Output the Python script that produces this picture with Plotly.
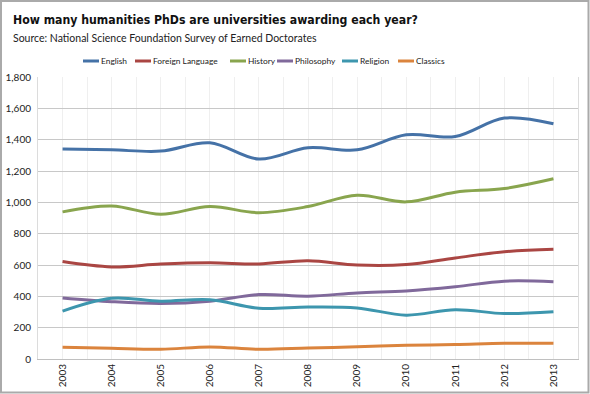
import plotly.graph_objects as go

years = [2003, 2004, 2005, 2006, 2007, 2008, 2009, 2010, 2011, 2012, 2013]
english = [1340, 1335, 1327, 1380, 1276, 1348, 1335, 1431, 1420, 1538, 1502]
foreign_language = [622, 588, 606, 614, 607, 627, 600, 603, 645, 685, 700]
history = [939, 977, 924, 973, 934, 973, 1045, 1003, 1065, 1088, 1150]
philosophy = [390, 366, 354, 369, 411, 401, 422, 434, 461, 497, 493]
religion = [306, 388, 369, 378, 324, 332, 326, 280, 315, 290, 301]
classics = [75, 68, 62, 77, 62, 70, 78, 87, 92, 100, 100]

series = [
    ("English", english, "#4572A7"),
    ("Foreign Language", foreign_language, "#AA4643"),
    ("History", history, "#89A54E"),
    ("Philosophy", philosophy, "#80699B"),
    ("Religion", religion, "#3D96AE"),
    ("Classics", classics, "#DB843D"),
]

W, H = 590, 394
L, R, T, B = 38, 12, 77, 35
PW, PH = W - L - R, H - T - B


def px(p):
    return (p - L) / PW


def py(q):
    return (H - B - q) / PH


fig = go.Figure()
for name, vals, col in series:
    fig.add_trace(go.Scatter(
        x=years, y=vals, name=name, mode="lines",
        line=dict(color=col, width=3, shape="spline", smoothing=1.0),
        showlegend=False,
    ))

font_body = "Lato, Open Sans, sans-serif"
annotations = [
    dict(text="<b>How many humanities PhDs are universities awarding each year?</b>",
         x=px(11), y=py(20), xref="paper", yref="paper", xanchor="left", yanchor="middle",
         showarrow=False, font=dict(family="DejaVu Sans Condensed, DejaVu Sans", size=12.2, color="#111")),
    dict(text="Source: National Science Foundation Survey of Earned Doctorates",
         x=px(11), y=py(38), xref="paper", yref="paper", xanchor="left", yanchor="middle",
         showarrow=False, font=dict(family=font_body, size=10.5, color="#222")),
]
shapes = []
legend_x = [83, 135, 230, 277, 342, 398]
for (name, vals, col), lx in zip(series, legend_x):
    shapes.append(dict(type="line", xref="paper", yref="paper",
                       x0=px(lx), x1=px(lx + 16), y0=py(61), y1=py(61),
                       line=dict(color=col, width=3)))
    annotations.append(dict(text=name, x=px(lx + 16), y=py(61), xref="paper", yref="paper",
                            xanchor="left", yanchor="middle", showarrow=False,
                            font=dict(family=font_body, size=8.4, color="#222")))
shapes.append(dict(type="rect", xref="paper", yref="paper",
                   x0=px(1), x1=px(588.5), y0=py(1), y1=py(392.5),
                   line=dict(color="#aaaaaa", width=2), layer="above"))

fig.update_layout(
    width=W, height=H,
    margin=dict(l=L, r=R, t=T, b=B, autoexpand=False),
    paper_bgcolor="white", plot_bgcolor="white",
    annotations=annotations, shapes=shapes,
    xaxis=dict(range=[2002.5, 2013.5], tickvals=years, tickangle=-90,
               showgrid=True, gridcolor="#efefef", gridwidth=1,
               minor=dict(dtick=0.5, tick0=2002.5, showgrid=True, gridcolor="#efefef"),
               showline=True, linecolor="#c0c0c0", linewidth=1, mirror=False,
               tickfont=dict(family=font_body, size=10, color="#222"),
               zeroline=False, automargin=False),
    yaxis=dict(range=[0, 1800], dtick=200, tickformat=",",
               showgrid=True, gridcolor="#c8c8c8", gridwidth=1,
               showline=True, linecolor="#dcdcdc", mirror=True,
               tickfont=dict(family=font_body, size=10, color="#222"),
               ticklabelstandoff=4, zeroline=False, automargin=False),
)

fig.write_html("out.html", config={"displayModeBar": False},
               post_script="document.body.style.margin='0';")
